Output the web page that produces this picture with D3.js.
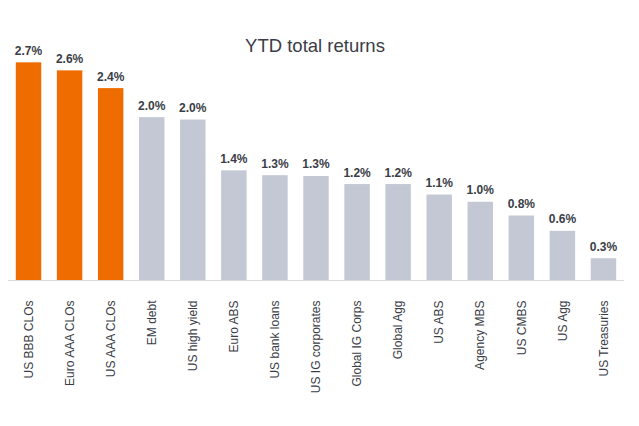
<!DOCTYPE html>
<html>
<head>
<meta charset="utf-8">
<script src="https://cdn.jsdelivr.net/npm/d3@7"></script>
<style>
    body { margin: 0; background: #fff; }
    svg { display: block; font-family: "Liberation Sans", Arial, sans-serif; }
    .title { font-size: 18.5px; fill: #3a3d46; }
    .value-label { font-size: 12px; font-weight: bold; fill: #3a3d46; }
    .cat-label { font-size: 12px; fill: #3a3d46; }
</style>
</head>
<body>
<div id="chart"></div>
<script>
const categories = ["US BBB CLOs", "Euro AAA CLOs", "US AAA CLOs", "EM debt", "US high yield",
    "Euro ABS", "US bank loans", "US IG corporates", "Global IG Corps", "Global Agg",
    "US ABS", "Agency MBS", "US CMBS", "US Agg", "US Treasuries"];
const returns = [2.70, 2.60, 2.38, 2.02, 1.99, 1.36, 1.30, 1.29, 1.19, 1.19, 1.06, 0.97, 0.80, 0.61, 0.27];
const highlighted = ["US BBB CLOs", "Euro AAA CLOs", "US AAA CLOs"];

const width = 639;
const height = 426;
const baseline = 280;

const svg = d3.select("#chart")
    .append("svg")
    .attr("width", width)
    .attr("height", height);

const x = d3.scaleBand()
    .domain(categories)
    .range([8, 624])
    .paddingInner(0.38)
    .paddingOuter(0.19);

const y = d3.scaleLinear()
    .domain([0, 2.7])
    .range([baseline, 62.3]);

svg.append("text")
    .attr("class", "title")
    .attr("x", 315)
    .attr("y", 51.5)
    .attr("text-anchor", "middle")
    .text("YTD total returns");

svg.selectAll(".bar")
    .data(categories)
    .enter()
    .append("rect")
    .attr("class", "bar")
    .attr("x", d => x(d))
    .attr("y", (d, i) => y(returns[i]))
    .attr("width", x.bandwidth())
    .attr("height", (d, i) => baseline - y(returns[i]))
    .attr("fill", d => highlighted.includes(d) ? "#ef6d00" : "#c3c8d4");

svg.selectAll(".value-label")
    .data(categories)
    .enter()
    .append("text")
    .attr("class", "value-label")
    .attr("x", d => x(d) + x.bandwidth() / 2)
    .attr("y", (d, i) => y(returns[i]) - 7.5)
    .attr("text-anchor", "middle")
    .text((d, i) => returns[i].toFixed(1) + "%");

// baseline axis
svg.append("line")
    .attr("x1", x.range()[0])
    .attr("x2", x.range()[1])
    .attr("y1", baseline + 0.5)
    .attr("y2", baseline + 0.5)
    .attr("stroke", "#d9d9d9")
    .attr("stroke-width", 1);

svg.selectAll(".cat-label")
    .data(categories)
    .enter()
    .append("text")
    .attr("class", "cat-label")
    .attr("transform", d => `translate(${x(d) + x.bandwidth() / 2},300.5) rotate(-90)`)
    .attr("text-anchor", "end")
    .attr("dy", "0.35em")
    .text(d => d);
</script>
</body>
</html>
